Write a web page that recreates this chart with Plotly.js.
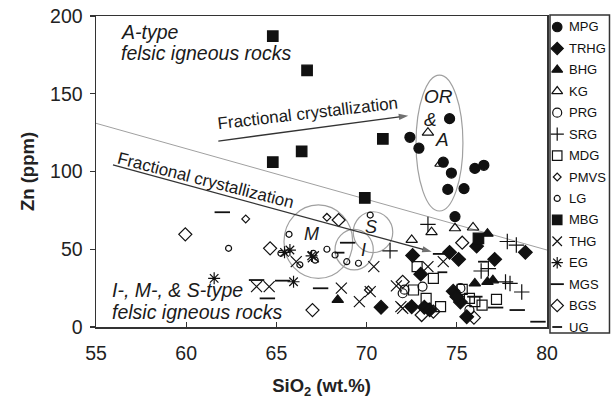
<!DOCTYPE html>
<html>
<head>
<meta charset="utf-8">
<script src="https://cdn.plot.ly/plotly-3.0.1.min.js"></script>
<style>
  html, body { margin: 0; padding: 0; background: #fff; }
  #chart { width: 611px; height: 400px; }
</style>
</head>
<body>
<div id="chart"></div>
<script>
// Zn versus SiO2 for felsic igneous rock groups

const groupNames = ['MPG', 'TRHG', 'BHG', 'KG', 'PRG', 'SRG', 'MDG', 'PMVS', 'LG', 'MBG', 'THG', 'EG', 'MGS', 'BGS', 'UG'];

const mpgSiO2 = [72.4, 72.9, 74.6, 74.25, 74.7, 76.0, 76.5, 74.5, 75.4, 74.9];
const mpgZn   = [122, 115, 134, 106, 99, 102, 104, 88.5, 89, 71];

const trhgSiO2 = [78.8, 76.1, 77.1, 72.55, 74.6, 75.1, 73.0, 74.8, 75.2, 72.5, 73.2, 73.5, 75.55, 70.8, 75.0];
const trhgZn   = [48, 52, 43.5, 46, 48, 43.5, 34, 23, 16, 13, 12.7, 11, 6.6, 12.7, 19.5];

const bhgSiO2 = [76.7, 76.0, 76.7, 77.0, 68.4];
const bhgZn   = [60, 28, 29, 30, 17.4];

const kgSiO2 = [73.4, 74.1, 72.5, 73.6, 74.9, 75.9];
const kgZn   = [125, 105, 56, 61, 63.5, 64];

const prgSiO2 = [72.1, 73.1, 75.2, 75.7, 72.0];
const prgZn   = [24, 26, 25, 11, 21.7];

const srgSiO2 = [73.4, 77.8, 78.3, 76.35, 76.75, 77.7, 77.95, 78.6, 71.3];
const srgZn   = [66, 55, 52.7, 36, 37.5, 29, 28, 22.5, 49];

const mdgSiO2 = [72.8, 73.7, 72.6, 73.3, 74.1, 75.7, 76.0, 76.4, 77.2, 75.3];
const mdgZn   = [38.8, 31.3, 23.8, 18.4, 13.1, 18.4, 16.3, 14.1, 17.8, 24.2];

const pmvsSiO2 = [63.3, 67.8, 70.1];
const pmvsZn   = [69.5, 70.5, 23.8];

const lgSiO2 = [62.35, 65.7, 70.2, 68.9, 69.55, 68.25, 66.3, 67.05, 67.8, 67.15, 65.25];
const lgZn   = [50.6, 59.6, 72, 42, 41, 46.3, 40, 47.4, 50, 43, 47.4];

const mbgSiO2 = [64.8, 66.7, 64.8, 66.4, 70.9, 69.9, 76.2];
const mbgZn   = [187, 165, 106, 113, 121, 83, 57];

const thgSiO2 = [63.9, 64.6, 68.6, 69.6, 70.4, 70.2, 71.65, 71.9, 67.05, 66.1, 74.25, 73.4, 72.0];
const thgZn   = [26, 26, 25, 16.3, 38.8, 22.7, 26.4, 13.1, 45.2, 42, 42, 38.8, 12];

const egSiO2 = [61.55, 65.75, 66.95, 65.95, 65.45];
const egZn   = [31.3, 49.5, 45.7, 29.1, 48];

const mgsSiO2 = [62.0, 68.95, 67.45, 65.35, 64.5, 63.9, 74.1, 77.15, 78.35, 79.5, 76.0];
const mgsZn   = [73.8, 54.2, 24.9, 29.8, 18.4, 30.2, 47, 12.5, 10.9, 3.4, 19.5];

const bgsSiO2 = [59.95, 64.65, 68.45, 67.0, 75.3, 72.0, 73.05, 75.95, 73.7];
const bgsZn   = [59.6, 50.6, 68.8, 10.9, 54.2, 29.1, 7.7, 6, 9.9];

const ugSiO2 = [68.5, 74.2, 76.45];
const ugZn   = [47.8, 35.2, 42];

// fractional crystallization trends: [start, end]
const trendUpperSiO2 = [61.78, 72.31];
const trendUpperZn   = [119.6, 135.9];
const trendLowerSiO2 = [55.94, 73.61];
const trendLowerZn   = [104.2, 48.4];

const xTicks = [55, 60, 65, 70, 75, 80];
const yTicks = [0, 50, 100, 150, 200];

// marker look for each group
const looks = {
  MPG:  { symbol: 'circle',           size: 10 },
  TRHG: { symbol: 'diamond',          size: 10.5 },
  BHG:  { symbol: 'triangle-up',      size: 10 },
  KG:   { symbol: 'triangle-up-open', size: 10 },
  PRG:  { symbol: 'circle-open',      size: 9 },
  SRG:  { symbol: 'cross-thin-open',  size: 11 },
  MDG:  { symbol: 'square-open',      size: 10 },
  PMVS: { symbol: 'diamond-open',     size: 6 },
  LG:   { symbol: 'circle-open',      size: 6 },
  MBG:  { symbol: 'square',           size: 10.5 },
  THG:  { symbol: 'x-thin-open',      size: 11 },
  EG:   { symbol: 'asterisk-open',    size: 10 },
  MGS:  { symbol: 'line-ew-open',     size: 11 },
  BGS:  { symbol: 'diamond-open',     size: 10 },
  UG:   { symbol: 'line-ew-open',     size: 7 }
};

const groupData = {
  MPG: [mpgSiO2, mpgZn], TRHG: [trhgSiO2, trhgZn], BHG: [bhgSiO2, bhgZn],
  KG: [kgSiO2, kgZn], PRG: [prgSiO2, prgZn], SRG: [srgSiO2, srgZn],
  MDG: [mdgSiO2, mdgZn], PMVS: [pmvsSiO2, pmvsZn], LG: [lgSiO2, lgZn],
  MBG: [mbgSiO2, mbgZn], THG: [thgSiO2, thgZn], EG: [egSiO2, egZn],
  MGS: [mgsSiO2, mgsZn], BGS: [bgsSiO2, bgsZn], UG: [ugSiO2, ugZn]
};

const FONT = 'Liberation Sans, Arial, sans-serif';
const INK = '#111';

function markerFor(name, maxSize) {
  const lk = looks[name];
  return { symbol: lk.symbol, size: Math.min(lk.size, maxSize), color: INK,
           line: { color: INK, width: lk.symbol.indexOf('line') === 0 ? 1.8 : 1.2 } };
}

const traces = groupNames.map(function (name) {
  return {
    type: 'scatter', mode: 'markers', name: name,
    x: groupData[name][0], y: groupData[name][1],
    xaxis: 'x', yaxis: 'y', cliponaxis: false, showlegend: false,
    marker: markerFor(name, 99)
  };
});

// trend arrows, arrowhead oriented along the segment
[[trendUpperSiO2, trendUpperZn], [trendLowerSiO2, trendLowerZn]].forEach(function (t) {
  traces.push({
    type: 'scatter', mode: 'lines+markers', x: t[0], y: t[1],
    xaxis: 'x', yaxis: 'y', showlegend: false, hoverinfo: 'skip',
    line: { color: '#333', width: 1.3 },
    marker: { symbol: ['circle', 'arrow'], size: [0, 10], angleref: 'previous',
              color: '#333', line: { width: 0 } }
  });
});

// key panel on the right: one symbol per group, stacked top to bottom
groupNames.forEach(function (name, i) {
  traces.push({
    type: 'scatter', mode: 'markers', xaxis: 'x2', yaxis: 'y2',
    x: [0.12], y: [-i], cliponaxis: false, showlegend: false, hoverinfo: 'skip',
    marker: markerFor(name, 9.5)
  });
});

const keyLabels = groupNames.map(function (n, i) {
  return { xref: 'x2', yref: 'y2', x: 0.29, y: -i, text: n,
           xanchor: 'left', yanchor: 'middle', showarrow: false,
           font: { family: FONT, size: 13, color: INK } };
});

function note(text, x, y, size, extra) {
  return Object.assign({ xref: 'x', yref: 'y', x: x, y: y, text: text, showarrow: false,
    font: { family: FONT, size: size, color: '#1a1a1a' } }, extra || {});
}

const notes = [
  note('<i>A-type</i>', 56.27, 190, 19.5, { xanchor: 'left' }),
  note('<i>felsic igneous rocks</i>', 56.27, 176, 19.5, { xanchor: 'left' }),
  note('<i>I-, M-, & S-type</i>', 55.8, 23.8, 19.5, { xanchor: 'left' }),
  note('<i>felsic igneous rocks</i>', 55.8, 9.8, 19.5, { xanchor: 'left' }),
  note('<i>OR</i>', 73.97, 148, 19),
  note('<i>&</i>', 73.55, 133.6, 19),
  note('<i>A</i>', 74.2, 120.3, 19),
  note('<i>M</i>', 66.95, 59.6, 18),
  note('<i>S</i>', 70.24, 64.1, 18),
  note('<i>I</i>', 69.82, 49.5, 18),
  note('Fractional crystallization', 66.7, 137.3, 17, { textangle: -6.6 }),
  note('Fractional crystallization', 61.07, 94.2, 17, { textangle: 14.4 })
];

const GREY = '#a0a0a0';
const shapes = [
  { type: 'line', xref: 'x', yref: 'y', x0: 55, y0: 131, x1: 80, y1: 49.5,
    line: { color: GREY, width: 1 }, layer: 'below' },
  { type: 'circle', xref: 'x', yref: 'y', x0: 72.74, x1: 75.34, y0: 74.6, y1: 162,
    line: { color: GREY, width: 1.2 }, layer: 'below' },
  { type: 'circle', xref: 'x', yref: 'y', x0: 65.42, x1: 69.23, y0: 31.3, y1: 78.5,
    line: { color: GREY, width: 1.2 }, layer: 'below' },
  { type: 'circle', xref: 'x', yref: 'y', x0: 68.25, x1: 70.37, y0: 36.7, y1: 62.8,
    line: { color: GREY, width: 1.2 }, layer: 'below' },
  { type: 'circle', xref: 'x', yref: 'y', x0: 69.26, x1: 71.45, y0: 47.8, y1: 74.1,
    line: { color: GREY, width: 1.2 }, layer: 'below' },
  // frame of the key panel
  { type: 'rect', xref: 'paper', yref: 'paper', x0: 454 / 514, x1: 0.999, y0: -0.019, y1: 1.003,
    line: { color: '#333', width: 1.5 }, fillcolor: 'rgba(0,0,0,0)' }
];

const layout = {
  width: 611, height: 400,
  margin: { l: 96, r: 1, t: 16, b: 73 },
  paper_bgcolor: '#fff', plot_bgcolor: '#fff',
  showlegend: false,
  font: { family: FONT, color: '#222' },
  xaxis: {
    domain: [0, 451 / 514], range: [55, 80], tickvals: xTicks,
    ticks: 'inside', ticklen: 5, tickcolor: '#333', tickwidth: 1.3,
    ticklabelstandoff: 8,
    showline: true, mirror: true, linecolor: '#333', linewidth: 1.5,
    showgrid: false, zeroline: false,
    tickfont: { family: FONT, size: 19.5, color: '#222' },
    title: { text: '<b>SiO<sub>2</sub> (wt.%)</b>', font: { family: FONT, size: 18.5, color: '#222' }, standoff: 16 }
  },
  yaxis: {
    domain: [0, 1], range: [0, 200], tickvals: yTicks,
    ticks: 'outside', ticklen: 5, tickcolor: '#333', tickwidth: 1.3,
    ticklabelstandoff: 3,
    showline: true, mirror: true, linecolor: '#333', linewidth: 1.5,
    showgrid: false, zeroline: false,
    tickfont: { family: FONT, size: 19.5, color: '#222' },
    title: { text: '<b>Zn (ppm)</b>', font: { family: FONT, size: 18.5, color: '#222' }, standoff: 10 }
  },
  xaxis2: { domain: [454 / 514, 1], range: [0, 1], visible: false, fixedrange: true, anchor: 'y2' },
  yaxis2: { domain: [0, 1], range: [-14.0, 0.513], visible: false, fixedrange: true, anchor: 'x2' },
  shapes: shapes,
  annotations: notes.concat(keyLabels)
};

Plotly.newPlot('chart', traces, layout, { displayModeBar: false, staticPlot: true });
</script>
</body>
</html>
